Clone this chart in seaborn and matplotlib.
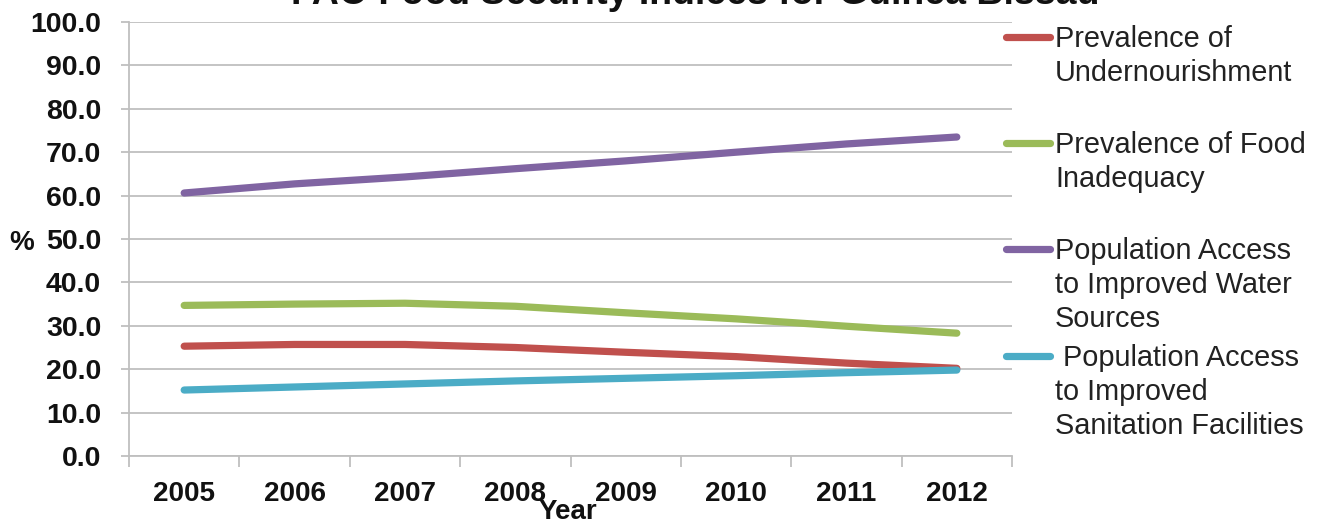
import numpy as np
import pandas as pd
import matplotlib
matplotlib.use("Agg")
import matplotlib.pyplot as plt
from matplotlib.lines import Line2D
from matplotlib.ticker import FormatStrFormatter, FixedLocator
import seaborn as sns

years = [2005, 2006, 2007, 2008, 2009, 2010, 2011, 2012]
undernourishment = [25.3, 25.7, 25.7, 25.0, 23.9, 22.9, 21.4, 20.2]
food_inadequacy = [34.7, 35.0, 35.2, 34.5, 33.0, 31.6, 29.9, 28.3]
water_access = [60.6, 62.7, 64.3, 66.2, 68.0, 70.0, 71.9, 73.5]
sanitation_access = [15.2, 15.9, 16.6, 17.3, 17.9, 18.5, 19.2, 19.8]

series_names = [
    "Prevalence of\nUndernourishment",
    "Prevalence of Food\nInadequacy",
    "Population Access\nto Improved Water\nSources",
    " Population Access\nto Improved\nSanitation Facilities",
]
series_values = [undernourishment, food_inadequacy, water_access, sanitation_access]
colors = ["#C0504D", "#9BBB59", "#8064A2", "#4BACC6"]
y_ticks = [0, 10, 20, 30, 40, 50, 60, 70, 80, 90, 100]
title = "FAO Food Security Indices for Guinea Bissau"

df = pd.DataFrame({
    "Year": np.tile(years, len(series_names)),
    "Value": np.concatenate(series_values),
    "Series": np.repeat(series_names, len(years)),
})

sns.set_theme(style="white")
plt.rcParams["font.family"] = ["Liberation Sans", "DejaVu Sans"]

W, H = 1320, 525
fig = plt.figure(figsize=(W / 100, H / 100), dpi=100)
ax_l, ax_r, ax_t, ax_b = 129, 1012, 22, 456
ax = fig.add_axes([ax_l / W, 1 - ax_b / H, (ax_r - ax_l) / W, (ax_b - ax_t) / H])

sns.lineplot(data=df, x="Year", y="Value", hue="Series", hue_order=series_names,
             palette=colors, linewidth=5.2, ax=ax, legend=False, sort=False)
for ln in ax.lines:
    ln.set_solid_capstyle("round")
    ln.set_solid_joinstyle("round")

ax.set_xlim(years[0] - 0.5, years[-1] + 0.5)
ax.set_ylim(0, 100)
ax.set_yticks(y_ticks)
ax.yaxis.set_major_formatter(FormatStrFormatter("%.1f"))
ax.set_xticks(years)
ax.set_xticklabels([str(y) for y in years])
ax.xaxis.set_minor_locator(FixedLocator(np.arange(years[0] - 0.5, years[-1] + 1.0, 1.0)))

grid_c = "#bfbfbf"
ax.grid(axis="y", color=grid_c, linewidth=1.3)
ax.grid(axis="x", visible=False)
ax.set_axisbelow(True)
for s in ["top", "right"]:
    ax.spines[s].set_visible(False)
for s in ["left", "bottom"]:
    ax.spines[s].set_color(grid_c)
    ax.spines[s].set_linewidth(1.3)

ax.tick_params(axis="x", which="major", length=0, pad=18, labelsize=20, labelcolor="#111111")
ax.tick_params(axis="x", which="minor", length=8, width=1.3, color=grid_c, direction="out", bottom=True)
ax.tick_params(axis="y", which="major", length=6, width=1.3, color=grid_c, direction="out",
               pad=14, labelsize=20.5, labelcolor="#111111", left=True)
for lab in ax.get_xticklabels() + ax.get_yticklabels():
    lab.set_fontweight("bold")

ax.set_xlabel("Year", fontsize=20, fontweight="bold", color="#111111")
ax.xaxis.set_label_coords((568 - ax_l) / (ax_r - ax_l), -(512 - ax_b) / (ax_b - ax_t))
ax.xaxis.label.set_va("center")
ax.set_ylabel("%", fontsize=20, fontweight="bold", rotation=0, color="#111111")
ax.yaxis.set_label_coords(-(ax_l - 22) / (ax_r - ax_l), (ax_b - 243) / (ax_b - ax_t))
ax.yaxis.label.set_va("center")
ax.yaxis.label.set_ha("center")

fig.text(695 / W, 1 - 4 / H, title, ha="center", va="baseline",
         fontsize=27, fontweight="bold", color="#111111")

# Legend (manual, handle aligned with first text line)
leg_y = [37, 143, 249, 356]
for name, c, yy in zip(series_names, colors, leg_y):
    fig.add_artist(Line2D([1006 / W, 1050 / W], [1 - yy / H, 1 - yy / H], transform=fig.transFigure,
                          color=c, linewidth=5.2, solid_capstyle="round"))
    fig.text(1055 / W, 1 - (yy - 12) / H, name, ha="left", va="top", fontsize=20.8,
             color="#222222", linespacing=1.27)

fig.savefig("out.png", dpi=100)
